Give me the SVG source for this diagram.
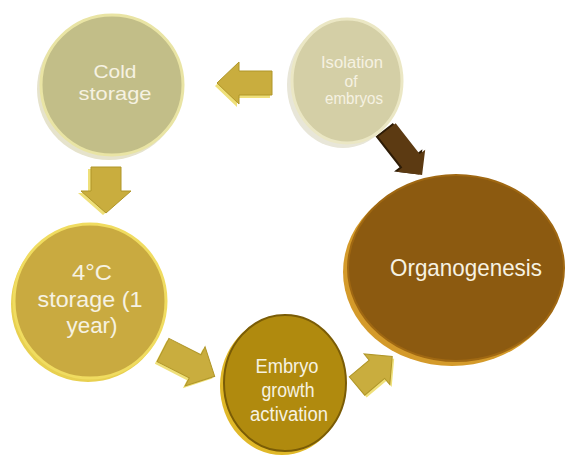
<svg xmlns="http://www.w3.org/2000/svg" width="567" height="459" viewBox="0 0 567 459">
<style>
.t{font-family:"Liberation Sans",Arial,sans-serif;fill:#f6f2e2;text-anchor:middle}
.ga{fill:#c9ad3e;stroke:#b09628;stroke-width:1}
.gs{fill:#efe07a}
</style>
<rect width="567" height="459" fill="#ffffff"/>
<g id="connectors">
  <g transform="translate(272,83) rotate(180)">
    <path class="gs" transform="translate(2,-3)" d="M0,-12 H33 V-21 L55,0 L33,21 V12 H0 Z"/>
    <path class="ga" d="M0,-12 H33 V-21 L55,0 L33,21 V12 H0 Z"/>
  </g>
  <g transform="translate(106,167) rotate(90)">
    <path class="gs" transform="translate(2,3)" d="M0,-15 H24 V-25 L46,0 L24,25 V15 H0 Z"/>
    <path class="ga" d="M0,-15 H24 V-25 L46,0 L24,25 V15 H0 Z"/>
  </g>
  <g transform="translate(163,350) rotate(27)">
    <path class="gs" transform="translate(-1,3)" d="M0,-13 H36 V-22 L58,0 L36,22 V13 H0 Z"/>
    <path class="ga" d="M0,-13 H36 V-22 L58,0 L36,22 V13 H0 Z"/>
  </g>
  <g transform="translate(357,386) rotate(-40)">
    <path class="gs" transform="translate(0,3)" d="M0,-12 H26 V-20 L46,0 L26,20 V12 H0 Z"/>
    <path class="ga" d="M0,-12 H26 V-20 L46,0 L26,20 V12 H0 Z"/>
  </g>
  <g transform="translate(387,130) rotate(52)">
    <path fill="#2e1c06" transform="translate(-2,2)" d="M0,-11 H39 V-18 L57,0 L39,18 V11 H0 Z"/>
    <path fill="#5c3a12" d="M0,-11 H39 V-18 L57,0 L39,18 V11 H0 Z"/>
  </g>
</g>
<g id="cold-storage">
  <ellipse cx="109" cy="89" rx="72" ry="71" fill="#e6e3cc"/>
  <ellipse cx="112" cy="85" rx="71" ry="70" fill="#c2be88" stroke="#e9e4a4" stroke-width="3"/>
  <text class="t" x="115" y="78" font-size="19" textLength="43" lengthAdjust="spacingAndGlyphs">Cold</text>
  <text class="t" x="115" y="100" font-size="19" textLength="73" lengthAdjust="spacingAndGlyphs">storage</text>
</g>
<g id="isolation-of-embryos">
  <ellipse cx="343" cy="85" rx="56" ry="63" fill="#e8e6d8"/>
  <ellipse cx="347" cy="81" rx="55" ry="62" fill="#d4cfa6" stroke="#ebe7c4" stroke-width="3"/>
  <text class="t" x="352" y="68" font-size="16" textLength="62" lengthAdjust="spacingAndGlyphs">Isolation</text>
  <text class="t" x="351" y="87" font-size="16" textLength="13" lengthAdjust="spacingAndGlyphs">of</text>
  <text class="t" x="354" y="104" font-size="16" textLength="58" lengthAdjust="spacingAndGlyphs">embryos</text>
</g>
<g id="organogenesis">
  <ellipse cx="452" cy="272" rx="109" ry="94" fill="#d49a2a"/>
  <ellipse cx="456" cy="268" rx="108" ry="93" fill="#8c5a10" stroke="#a06812" stroke-width="2"/>
  <text class="t" x="466" y="276" font-size="24" textLength="152" lengthAdjust="spacingAndGlyphs">Organogenesis</text>
</g>
<g id="cold-4c-storage">
  <ellipse cx="88" cy="304" rx="77" ry="78" fill="#e8d050"/>
  <ellipse cx="90" cy="301" rx="76" ry="77" fill="#c9aa40" stroke="#f0dc60" stroke-width="3"/>
  <text class="t" x="92" y="280" font-size="22" textLength="40" lengthAdjust="spacingAndGlyphs">4°C</text>
  <text class="t" x="90" y="307" font-size="22" textLength="105" lengthAdjust="spacingAndGlyphs">storage (1</text>
  <text class="t" x="92" y="333" font-size="22" textLength="51" lengthAdjust="spacingAndGlyphs">year)</text>
</g>
<g id="embryo-growth-activation">
  <ellipse cx="282" cy="386" rx="62" ry="69" fill="#e0b828"/>
  <ellipse cx="285" cy="383" rx="61" ry="68" fill="#b08a0e" stroke="#7a5c06" stroke-width="2"/>
  <text class="t" x="287" y="373" font-size="20" textLength="63" lengthAdjust="spacingAndGlyphs">Embryo</text>
  <text class="t" x="288" y="397" font-size="20" textLength="53" lengthAdjust="spacingAndGlyphs">growth</text>
  <text class="t" x="289" y="421" font-size="20" textLength="78" lengthAdjust="spacingAndGlyphs">activation</text>
</g>
</svg>
